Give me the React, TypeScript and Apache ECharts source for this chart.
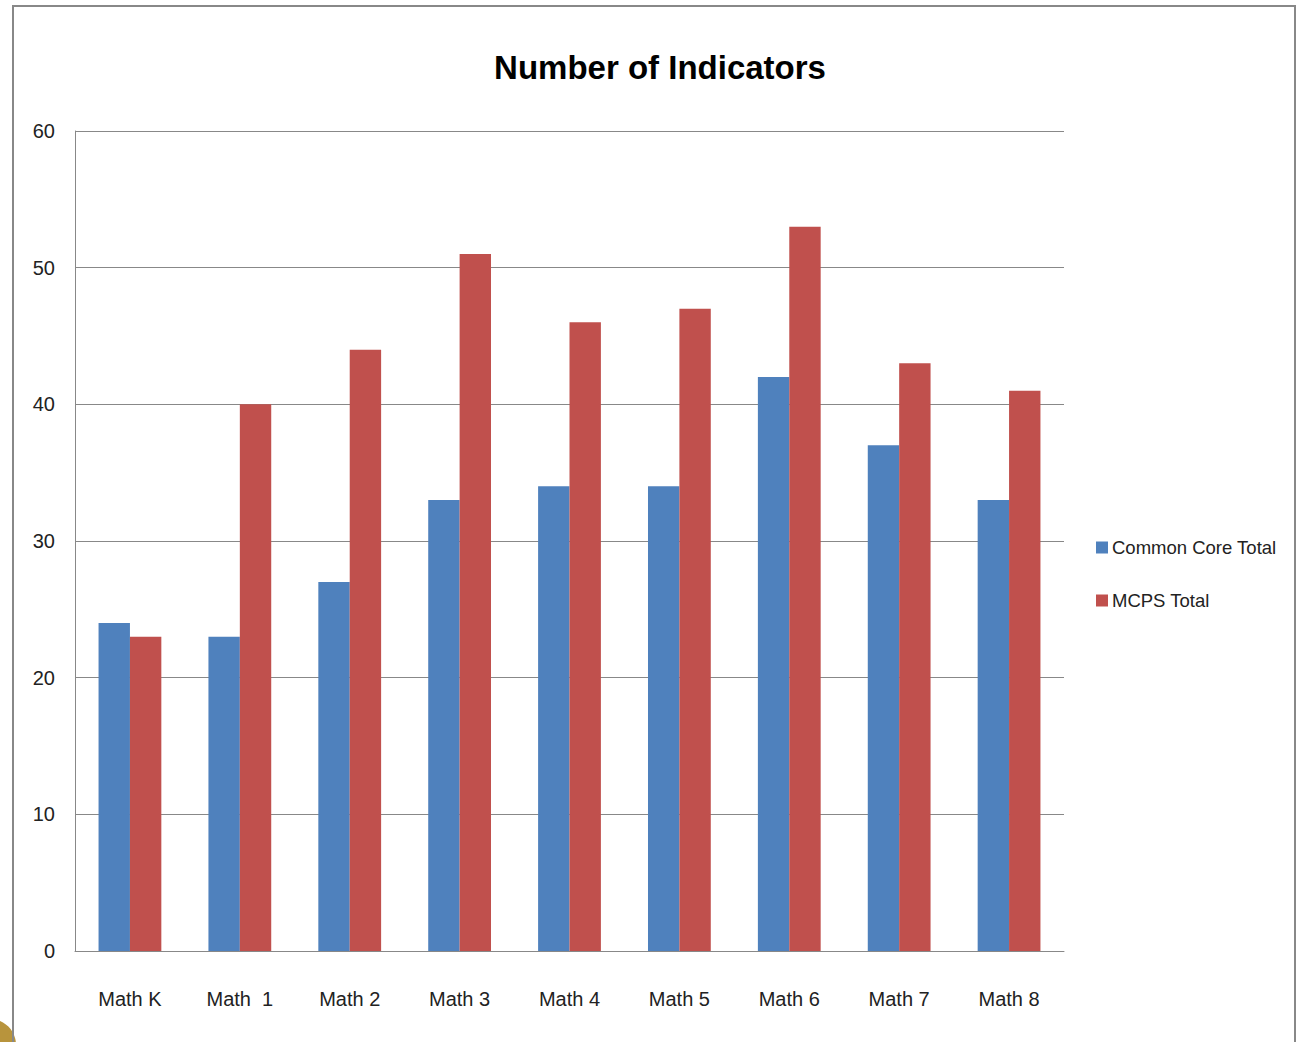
import React, { useEffect, useRef } from "react";
import * as echarts from "echarts";

const categories = ["Math K", "Math  1", "Math 2", "Math 3", "Math 4", "Math 5", "Math 6", "Math 7", "Math 8"];
const commonCore = [24, 23, 27, 33, 34, 34, 42, 37, 33];
const mcps = [23, 40, 44, 51, 46, 47, 53, 43, 41];
const seriesNames = ["Common Core Total", "MCPS Total"];

const FONT = "'Liberation Sans Narrow', 'Liberation Sans', Arial, sans-serif";

export default function App() {
  const ref = useRef<HTMLDivElement>(null);
  useEffect(() => {
    if (!ref.current) return;
    const chart = echarts.init(ref.current, null, { renderer: "svg" });
    chart.setOption({
      animation: false,
      backgroundColor: "#ffffff",
      title: {
        text: "Number of Indicators",
        left: 655,
        textAlign: "center",
        top: 46,
        textStyle: { fontFamily: FONT, fontSize: 33, fontWeight: "bold", color: "#000" },
      },
      legend: {
        orient: "vertical",
        left: 1091,
        top: 533,
        itemWidth: 12,
        itemHeight: 12,
        itemGap: 34,
        icon: "rect",
        data: seriesNames,
        textStyle: { fontFamily: FONT, fontSize: 18.5, color: "#222", padding: [0, 0, 0, -1] },
      },
      grid: { left: 75, top: 131, width: 989, height: 820, containLabel: false },
      xAxis: {
        type: "category",
        data: categories,
        axisLine: { lineStyle: { color: "#888", width: 1 } },
        axisTick: { show: false },
        axisLabel: { fontFamily: FONT, fontSize: 20, color: "#222", margin: 38 },
      },
      yAxis: {
        type: "value",
        min: 0,
        max: 60,
        interval: 10,
        axisLine: { show: true, lineStyle: { color: "#888", width: 1 } },
        axisTick: { show: false },
        splitLine: { lineStyle: { color: "#888", width: 1 } },
        axisLabel: { fontFamily: FONT, fontSize: 20, color: "#222", margin: 20 },
      },
      series: [
        {
          name: seriesNames[0],
          type: "bar",
          data: commonCore,
          itemStyle: { color: "#4f81bd" },
          barGap: "0%",
          barCategoryGap: "42.86%",
        },
        {
          name: seriesNames[1],
          type: "bar",
          data: mcps,
          itemStyle: { color: "#c0504d" },
          barGap: "0%",
          barCategoryGap: "42.86%",
        },
      ],
      graphic: [
        {
          type: "circle",
          shape: { cx: -10, cy: 1045, r: 26 },
          style: { fill: "#b8943c" },
          silent: true,
        },
        {
          type: "polyline",
          shape: { points: [[13, 1042], [13, 6], [1295, 6], [1295, 1042]] },
          style: { stroke: "#888", lineWidth: 2, fill: "none" },
          silent: true,
        },
      ],
    });
    return () => chart.dispose();
  }, []);
  return (
    <div
      ref={ref}
      style={{ position: "fixed", left: 0, top: 0, width: 1297, height: 1042 }}
    />
  );
}
